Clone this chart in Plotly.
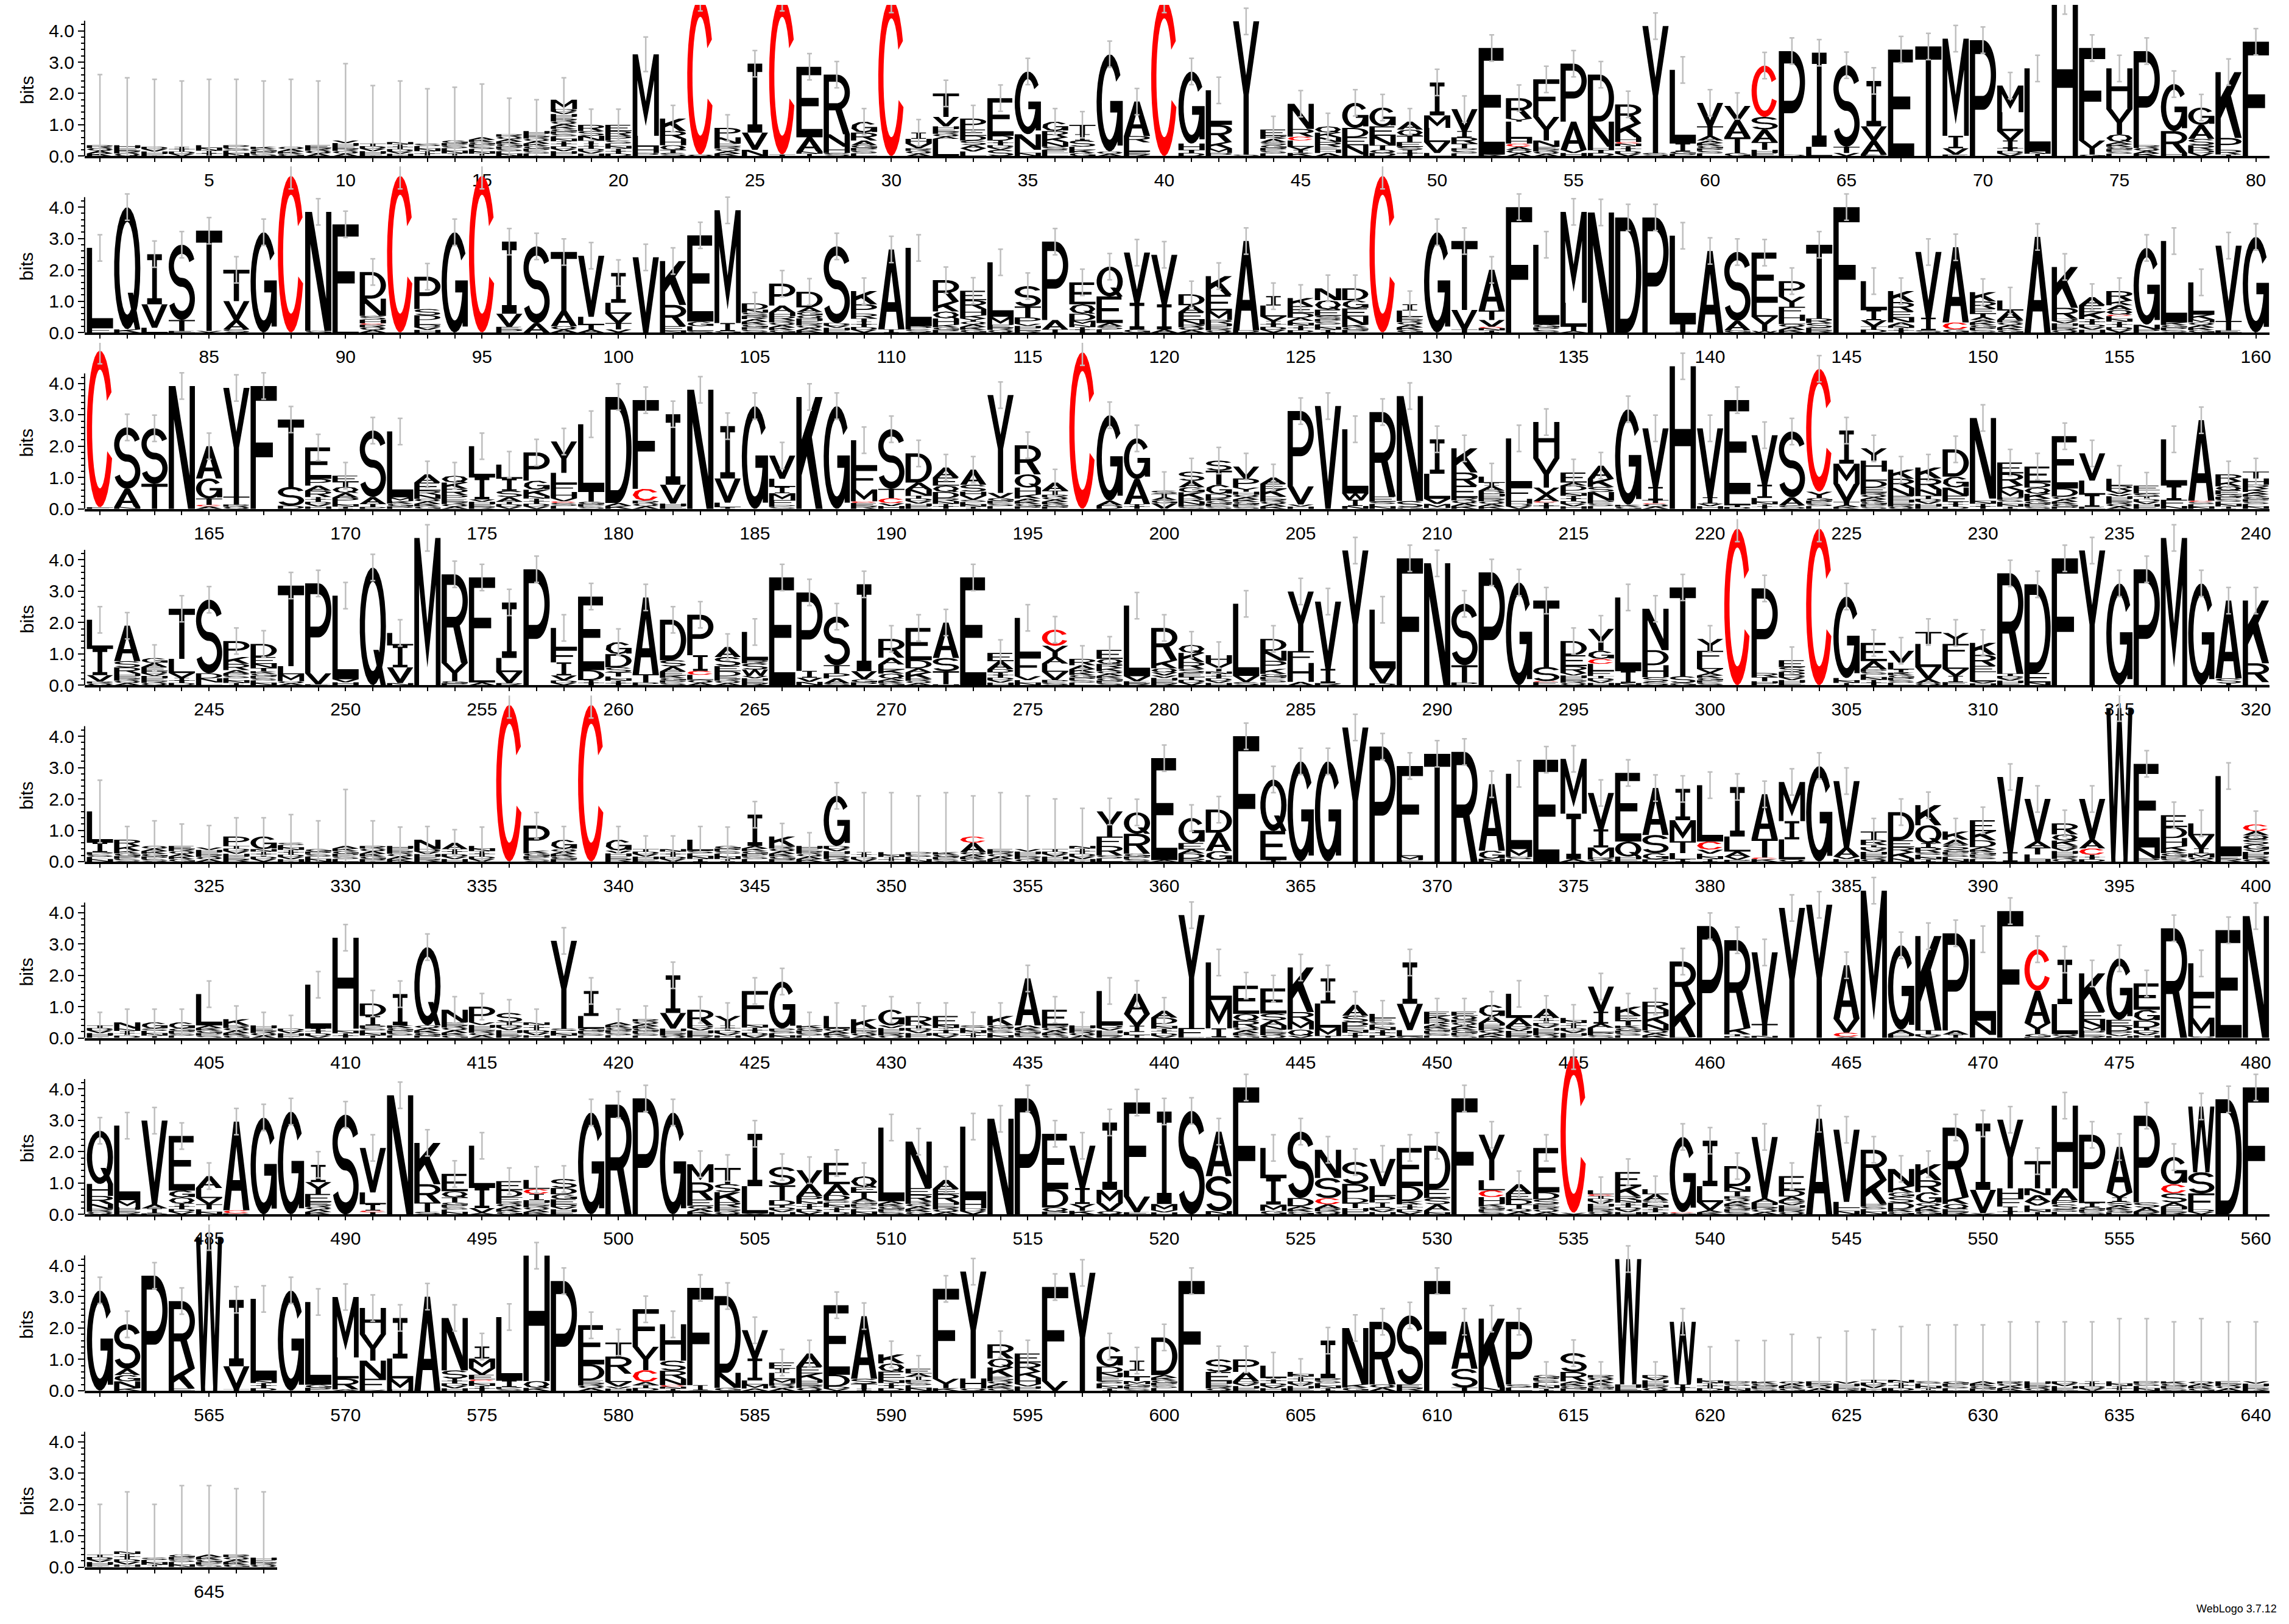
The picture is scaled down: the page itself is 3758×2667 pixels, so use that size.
import re
import numpy as np
import plotly.graph_objects as go

# ---------------- data: one token per position, letters listed top -> bottom ----------------
# token = letter+height(bits) pairs; 'x' = tiny mixed residues; '~e' = error-bar half width
ROW1 = """
x.35~2.25 x.35~2.15 x.3~2.15 x.3~2.1 x.35~2.1 x.35~2.1 x.3~2.1 x.3~2.15 x.35~2.05 x.5~2.45
x.4~1.85 x.45~1.95 x.4~1.75 x.5~1.7 x.6~1.7 x.7~1.15 x.8~1.0 M.3x1.5~.7 R.2S.15N.15T.1x.4~.5 E.2R.15P.15S.1x.4~.5
M2.6L.35H.2x.1~.55 K.4R.25H.2Q.15T.1S.1 C5.0x.05 P.3N.2x.4 I2.2V.55N.2 C5.0x.05 E2.25A.45x.15 R1.9N.4H.2x.1 G.35R.25A.15x.35 C5.0
I.2H.15V.15x.25 T.75V.3x.4L.55 P.35E.2D.15S.15A.1V.1L.15 E1.2D.15x.3S.2 G2.0N.5x.2 G.3R.2K.15N.15S.1E.1L.1 T.3I.2S.2L.1x.2 G3.1x.15 A1.1R.2L.3x.14 C5.0
G2.3H.2x.2 L1.1R.55K.2M.15P.1 Y4.25x.05 E.2R.1A.1S.1x.35 N.8R.25C.12L.2V.1I.1K.1 Q.2K.15N.15R.15E.1H.1A.1 G.8D.3E.25N.3x.05 G.6E.3N.3T.15Q.1x.1 A.25Q.2T.2E.15S.1x.2 I1.05M.4L.45V.35x.1
V.7I.2R.2T.15x.25 E3.4x.05 R.65Y.1L.55H.15C.1A.1x.2 F1.2Y.75N.2x.3 P1.85A.9x.2 D1.5N.8H.1x.2 R.6K.45H.15C.05x.4 Y4.05x.1 L2.35I.25x.15 V.75T.3A.15x.5
V.45A.55T.5G.1 C1.64S.4A.4T.25x.2 P3.3x.05 I3.0L.3 S2.6T.2V.1 I1.45V.45A.45x.05 E3.4 T3.5 M3.1I.4V.2x.05 P3.7
M.85L.6V.3I.25x.25 L2.65x.15 H4.95 F2.95Y.45x.05 H1.3Y.8Q.25x.45 P3.0x.35 G1.5R.7x.1 G.55A.45S.2R.15x.2 K2.1P.38R.15x.05 F3.65
"""
ROW2 = """
L2.55F.15 Q3.9x.1 I1.6V.75L.15 S2.4T.35x.05 T3.2x.05 T1.0V.6A.3S.1 G3.2 C5.0 N3.8x.05 F3.25L.2
D.85N.55S.12H.12C.04x.25 C5.0 P1.03S.2D.15L.15x.25 G3.2 C5.0 I2.3V.42E.08x.1 S2.45A.3 T1.87A.5x.2 V1.95L.25T.15A.1 I.95L.35V.3T.2x.1
V2.4 K1.4R.68E.15x.05 E2.75G.15L.15x.05 M3.6I.25x.05 D.2N.1S.1R.1x.43~.35 P.7A.22H.12R.12x.4 D.5A.15G.1Q.1x.45 S2.45x.3 K.42P.3R.15T.1x.35 A2.55I.1
L2.5x.2 R.68K.32Q.22H.2x.25 E.3R.28H.2K.1Y.1x.35 L1.74M.25x.25 S.65T.35P.2x.28 P2.5A.3x.1 E.7Q.3D.22M.12x.26 Q.95E.85A.1x.2 V1.6I.85x.1 V1.58I.8x.1
D.35A.22E.25N.15x.25 K.6E.5M.3R.12x.28 A2.85x.07 I.3L.35V.15x.36 K.26E.22D.15A.1x.37 N.38Q.3E.2S.1x.43 D.38G.26E.26N.26x.25 C5.0 I.2L.2x.5 G3.2
T2.2V.62x.1 A1.3T.3V.22C.04x.14 F4.0 L2.55x.25 M2.9L.75T.15x.05 N3.83 D3.67 P3.67 L2.8T.25x.04 A2.6
S2.2A.3G.07 E1.6L.45Y.45W.05 P.5Y.32F.25H.2L.1x.27 T2.35R.15S.15x.15 F4.0 L.93I.32V.2x.19 K.35R.3E.2N.15A.1x.22 V2.1I.4x.07 A2.4C.22x.1 K.3R.23E.16T.1A.1x.4
L.32A.3x.4 A3.05 K1.3R.35x.44 A.26E.22K.22x.43 R.3K.15A.15Q.15C.05x.52 G2.45N.15x.1 L2.6x.32 L1.03K.15M.1x.32 V2.4T.3x.07 G3.05
"""
ROW3 = """
C5.0F.05 S1.96A.58x.06 S1.77T.8 N3.92 A1.03G.64T.2C.05x.08 Y3.47T.25x.14 F3.92 T2.15S.6x.1 E1.0P.22A.16R.2x.38 E.2T.15Q.2A.15P.15x.21
S2.12A.22T.1x.06 L2.1M.12x.25 A.26E.26R.13N.13x.32 Q.22K.2R.2P.13x.31 L1.0I.7x.3 L.45I.38S.2A.15x.23 P.9G.29K.2x.41 Y1.0L.35F.26H.2V.1C.05x.19 L2.12T.35x.23 D3.38x.19
F2.83C.38x.26 I2.25V.6x.17 N3.8 I1.67V.77L.15x.05 G3.28 V.74L.26I.2M.22F.16x.12 K3.57 G3.28 L.9F.67M.38C.05x.19 S1.9T.3C.16x.18
D.93A.22N.2x.42 A.32E.26Q.2D.2R.1x.24 A.48S.22H.13V.13x.29 Y3.12V.16x.35 R.93Q.42H.22K.13x.33 A.26T.13x.45 C5.0 G2.73A.15x.11 G1.3A.8x.15 S.1T.1A.1G.1V.18~.6
S.3A.2G.16K.2R.1N.1x.13 S.32T.45G.3D.13x.34 V.38P.29Y.13H.1x.45 A.2E.16K.25x.39 P2.4V.58x.14 V3.28 L2.05W.2I.2x.09 R2.7E.16x.23 N3.35S.2x.05 I1.1L.8V.16M.13x.03
K.77R.42E.38x.36 L.2I.1A.15D.1x.48 L1.55F.38H.16x.16 H1.16Y.93V.22A.22C.04x.2 E.32A.1D.16x.58 A.42K.26S.16N.28x.26 G3.05x.13 V1.87I.42T.1C.03x.15 H4.55 V2.2I.2x.17
E3.0L.35x.12 V1.58I.42L.13x.22 S2.1A.26x.11 C3.92Y.2x.35 I1.06M.64V.58T.1x.12 Y.39H.35L.29D.22E.15x.53 K.29R.29N.26E.13x.28 K.35R.35N.2T.1x.32 D.87G.35N.26E.2x.22 N2.57x.33
E.35R.38K.16M.22x.37 E.51D.16Q.2K.15x.33 E1.67D.26x.39 V.87L.45I.38x.07 L.22R.16V.1x.48 E.15L.1S.1x.39 L1.48I.45F.2x.09 A2.57C.04x.22 R.22K.16Q.13E.13x.46 T.22H.2R.13K.1x.54
"""
ROW4 = """
L.93I.84V.2x.12 A1.13S.2R.2x.37 G.16A.13E.13x.45 T1.6L.45V.16x.23 S2.35D.16N.13x.09 P.51K.22R.2A.1x.38 D.42E.22N.13T.1x.45 T2.57L.26M.22x.13 P2.87V.35x.03 L2.67x.19
Q3.76 L.4I.7V.5x.07 M4.7 R2.83Y.58x.13 F2.8L.55x.09 I1.77L.45V.35x.07 P3.7 L.68F.42I.42V.16x.15 E2.35D.32x.16 G.39D.42S.16T.13x.28
A2.45T.26x.09 D1.29S.2A.16E.13x.31 P1.29I.5C.13L.16x.17 A.32S.29E.16D.16x.29 L.9R.1S.2W.2x.3 E3.44 P2.5I.22V.13x.11 S1.55T.26P.16A.16x.06 I2.77V.26x.19 R.6A.22L.16K.13Q.16x.21
E1.03D.26A.13K.2x.21 A1.13S.42T.42x.03 E3.44 E.26A.26D.1x.41 L1.22F.64V.13x.16 C.51Y.35A.22L.26V.26x.17 R.2A.13K.1x.41 E.29Q.16R.13K.1x.45 L2.25V.16x.13 R1.03K.26Q.13V.1x.31
Q.26K.29R.22S.13E.13x.26 H.26Y.26x.44 L2.3V.2x.1 D.38N.32P.26K.16x.36 Y1.9F.38H.6x.11 V2.15I.45x.07 Y4.3 L1.87V.48x.06 F4.05 N3.89
S1.96T.55x.09 P3.6 G3.28 T2.12S.45C.03x.1 D.45E.35R.22x.39 Y.7G.26C.16L.22F.16x.3 L2.35I.38x.07 N1.32D.48H.38S.15x.11 T2.83S.22x.07 Y.38F.32L.26V.13x.39
C5.0 P2.7R.13T.13x.13 E.22S.15D.1x.33 C5.0 G2.6x.23 E.58A.26x.51 V.38L.22I.1x.4 T.38L.74V.38A.13x.07 Y.35F.42L.38V.22I.2x.1 K.38R.35E.2L.3x.12
R3.2x.37 D2.83E.3x.09 F4.05 Y4.3 G3.25 P3.7 M4.7 G3.25 A2.48S.16x.06 K2.0R.6x.1
"""
ROW5 = """
L1.0I.3x.3~1.0 R.2K.15x.35 x.5~.8 x.5~.7 x.45~.7 P.3x.5~.6 G.4x.4~.6 x.6~.9 x.4~.9 x.5~1.8
x.5~.8 x.5~.6 N.3x.4 A.2x.4 x.5~.6 C5.0 P.8x.35 G.3x.4 C5.0 G.35x.35
x.4 x.4 L.35x.35 x.5~.6 I1.0x.5 K.3x.5 x.5 G1.6x.5 x.3~1.9 x.3~1.9
x.3~1.8 x.3~1.9 C.2A.3x.3~1.3 x.4~1.8 x.4~1.7 x.4~1.6 x.5~1.2 Y.8F.3R.3x.2 Q.68R.64x.25 E3.25x.05
G.8E.2A.13D.16x.1 D.74A.58G.29x.05 F4.0 Q1.64E.93x.05 G3.2 G3.2 Y4.28 P3.67 F2.67L.2M.13x.05 T3.44
R3.5 A2.12G.26x.09 L2.4M.25x.15 E3.25 M1.75I1.45x.08 V1.16I.58M.32x.13 E2.19Q.48x.16 A1.5S.58G.2x.07 I1.0M.67T.38L.2x.07 L1.8C.26V.13x.25
I1.58L.48A.16V.1x.06 A1.42T.6C.05x.08 M1.25I.58L.64x.07 G3.05 V2.12A.29x.16 T.26R.16x.54 D.9E.22R.16K.2x.1 K.64Q.58I.13R.16x.29 K.26A.16S.16x.38 E.35K.29D.22x.46
V2.4I.3 V1.35A.2T.22L.16x.07 R.35Q.2K.16x.51 V1.29A.29C.2x.22 W4.9 E2.67N.35x.1 E.38D.35H.26K.13x.36 L.38V.42I.16M.13x.13 L2.55x.18 C.22A.13Q.13S.16G.16x.39
"""
ROW6 = """
x.4 N.2x.3 G.2x.3 G.2x.3 L1.0x.4 K.2x.4 x.4 x.3 L1.4x.3 H2.9x.3
D.4I.3x.4 I1.0x.4 Q2.5x.4 N.4x.5 P.5x.5 S.3x.5 x.5 Y2.8x.3 I.8L.4x.3 x.5
x.6 I1.2V.5x.3 R.5x.4 Y.3x.4 F1.0x.5 G1.5x.3 x.4 L.4x.3 K.3x.3 G.5x.4
R.3x.4 E.3x.4 x.4 K.3x.4 A1.5x.4 E.5x.4 x.4 L1.1x.4 A.64V.38I.2L.1x.09 A.22D.2x.45
Y3.6F.29x.03 L1.2M.9I.29x.02 E.9Q.22R.22x.33 E.8S.22A.16N.13x.27 K1.42R.3M.26Q.2x.07 I.8L.77M.26x.07 A.35S.2D.13E.13x.25 L.13F.13x.51 I1.32V.84L.2x.05 E.13K.13R.13x.45
E.13Q.13x.58 G.38A.2x.48 L.77A.26x.38 A.29x.64 x.64 V.8I.38A.13L.15x.18 K.29E.16T.16x.39 R.26H.2K.26N.2x.24 R1.35K1.06x.03 P3.57
R2.8K.2x.12 V2.28T.38x.07 Y4.15 Y4.25 A1.7V.45C.13x.04 M4.7 G2.7A.13x.13 K3.0T.13x.12 P3.1A.13x.11 L2.6N.45x.1
F4.05 C1.32A1.03Y.35G.1x.03 I1.42L.95x.13 K1.22E.26N.22M.13P.1x.13 G1.96E.2D.16P.1x.12 E.84G.35D.22x.33 R3.5 L1.03F.7M.6x.05 E3.44 N3.89
"""
ROW7 = """
Q1.7H.38R.26N.16x.17 L2.38M.22x.23 V2.67A.13I.16x.03 E1.74G.22Q.2x.34 A.38L.32V.2T.16x.16 A2.83C.1x.03 G3.09 G3.28 I.55Y.38E.26x.39 S3.18
V1.42L.38I.2C.05x.07 N3.8 K1.32R.58T.3x.08 E.55Q.2T.16x.38 L1.35I.64V.15x.05 E.29D.22F.13x.42 L.29C.16I.2x.45 S.29D.2G.16E.16x.32 G3.25 R3.5
P3.7 G3.25 M.58R.55E.2x.27 T.51S.26K.32R.16x.23 I1.67L.87x.03 S.58T.48D.16x.29 V.45A.38P.16x.42 E.68A.35D.16x.45 Q.35E.16T.2A.1x.41 L2.35x.42
N1.48E.22R.2x.42 A.29E.16R.26x.39 L2.35H.26x.19 N3.05 P3.7 E1.77D.58Q.13x.09 V1.35I.51Y.22x.11 I2.15M.42V.26x.1 F3.0V.5x.07 I2.95M.2x.13
S3.3 A1.42S1.12x.1 F4.05 L.97I.84M.2x.11 S2.12D.26x.26 N.9S.64C.2A.13x.19 S.7P.45D.16T.16x.2 V.87L.32P.2I.16x.22 E1.22D.48K.1x.32 D1.38E.29S.2A.2x.12
F3.7 Y1.45L.32C.22H.22x.33 A.29E.2D.16T.13x.18 E1.42D.22S.16x.32 C5.0x.05 L.13C.05x.59 E.45K.32R.13x.45 L.16A.2x.44 G2.4C.03x.04 I1.45L.51V.26x.13
D.64N.16T.16x.58 V1.96A.13x.38 E.45D.2A.13x.44 A3.05 V2.3L.2x.2 R.96K.77x.33 N.55K.2G.13S.2D.2x.17 K.51R.38G.35x.36 R2.22K.22Q.16x.17 I2.12V.74x.04
Y2.19H.32F.26I.16x.09 T.87N.22A.2V.13L.13x.15 H2.64A.38P.13S.16x.16 P1.83L.35I.13x.23 A1.45V.16I.13S.13x.28 P2.77S.16A.13x.09 G.87C.29S.29A.13x.25 W2.1S.67F.51x.16 D3.67 F4.05
"""
ROW8 = """
G3.2 S1.42A.2G.2N.22x.08 P3.67 R2.15K.64x.07 W4.9 I2.12V.74x.04 L2.6x.33 G3.2 L2.64x.19 M1.93L.67R.35x.04
H.84Y.84N.58F.35x.03 I1.29L.64M.35x.04 A3.0 N1.67S.26x.39 I.38M.32V.2E.15C.05x.31 L2.03I.2x.12 H4.0Q.22x.09 P3.5 E1.25D.51x.33 T.45R.55L.26V.15x.13
F1.2Y.74C.38A.1x.18 H1.16S.32R.26N.2C.05x.13 F3.1I.16x.02 D2.45N.48x.09 V.9I.7L.13M.13x.07 E.2I.13L.2M.13x.24 A.42E.22K.2x.35 E2.22D.38x.13 A2.0S.16T.16x.06 K.29Q.26E.2x.41
E.15A.1T.1x.35 F2.87Y.3x.08 Y3.41H.32x.07 R.45Q.29K.29x.45 E.29R.29K.2H.2x.21 F3.0V.3x.01 Y3.76 G.64D.2N.13E.13x.31 I.32L.2T.13M.1x.21 D1.2x.5
F3.5 S.4E.3x.3 P.4A.3x.3 L.4x.4 x.6 I1.2x.4 N1.8x.2 R2.0x.2 S2.2x.2 F3.5
A1.5S.6x.1 K2.2x.1 P2.0x.2 x.5 S.6R.3x.3 x.5 W4.0x.2 x.5 W2.0x.2 x.4~1.0
x.3~1.3 x.3~1.3 x.3~1.5 x.3~1.4 x.3~1.6 x.35~1.6 x.35~1.7 x.3~1.8 x.3~1.8 x.3~1.8
x.3~1.9 x.3~1.9 x.3~1.9 x.3~1.9 x.3~2.0 x.3~2.0 x.3~1.9 x.3~2.0 x.3~1.9 x.3~1.9
"""
ROW9 = """
x.4~1.6 x.5~1.9 x.3~1.7 x.4~2.2 x.4~2.2 x.4~2.1 x.3~2.1
"""
ROWS = [ROW1, ROW2, ROW3, ROW4, ROW5, ROW6, ROW7, ROW8, ROW9]
ROW_START = [1, 81, 161, 241, 321, 401, 481, 561, 641]
Y_TICKS = [0, 1, 2, 3, 4]
Y_TICKTEXT = ["0.0", "1.0", "2.0", "3.0", "4.0"]
DEFAULT_ERR = 0.42
FOOTER = "WebLogo 3.7.12"

# ---------------- geometry / style ----------------
W, H = 3758, 2667
PX_POS = 44.84
PX_BIT = 51.8
X_LEFT = 131.0
FIRST_CENTER = 156.2
BASELINES = [250 + 291.5 * i for i in range(9)]
YMAX = 5.3
FONT = "Liberation Sans, Arial, Helvetica, sans-serif"
BLACK, RED, GRAY = "#000000", "#ff0000", "rgb(190,190,190)"
CLUTTER = "ASTEKLDRGNVQPIH"

HB = 0.12   # horizontal bar thickness (fraction of letter height)
VS = 0.2    # vertical stem thickness (fraction of letter width)


def rect(x0, y0, x1, y1):
    return [(x0, y0), (x1, y0), (x1, y1), (x0, y1)]


def band(cx, cy, rx, ry, a0, a1, n, tx=VS, ty=HB):
    t = np.radians(np.linspace(a0, a1, n))
    out = [(cx + rx * np.cos(a), cy + ry * np.sin(a)) for a in t]
    inn = [(cx + (rx - tx) * np.cos(a), cy + (ry - ty) * np.sin(a)) for a in t[::-1]]
    return out + inn


def stroke(xa, ya, xb, yb, w):
    return [(xa - w, ya), (xa + w, ya), (xb + w, yb), (xb - w, yb)]


def orient(poly):
    a = 0.0
    for i in range(len(poly)):
        x1, y1 = poly[i]
        x2, y2 = poly[(i + 1) % len(poly)]
        a += x1 * y2 - x2 * y1
    return poly if a > 0 else poly[::-1]


def make_glyphs(n):
    h, s = HB, VS
    pb = [rect(0, 0, s, 1), rect(0, 1 - h, .5, 1), rect(0, .4, .5, .4 + h), band(.5, .7, .5, .3, -90, 90, n)]
    su_cy = (1 + .5 - h / 2) / 2
    su_ry = (1 - (.5 - h / 2)) / 2
    sl_cy = (.5 + h / 2) / 2
    g = {
        'A': [[(0, 0), (.24, 0), (.6, 1), (.4, 1)], [(.76, 0), (1, 0), (.6, 1), (.4, 1)], rect(.18, .22, .82, .22 + h)],
        'C': [band(.5, .5, .5, .5, 28, 338, n)],
        'D': [rect(0, 0, s, 1), rect(0, 0, .45, h), rect(0, 1 - h, .45, 1), band(.45, .5, .55, .5, -90, 90, n)],
        'E': [rect(0, 0, s, 1), rect(0, 1 - h, .95, 1), rect(0, .5 - h / 2, .85, .5 + h / 2), rect(0, 0, 1, h)],
        'F': [rect(0, 0, s, 1), rect(0, 1 - h, 1, 1), rect(0, .42, .85, .42 + h)],
        'G': [band(.5, .5, .5, .5, 35, 355, n), rect(.52, .4, 1, .4 + h), rect(1 - s, .06, 1, .4 + h)],
        'H': [rect(0, 0, s, 1), rect(1 - s, 0, 1, 1), rect(0, .44, 1, .44 + h)],
        'I': [rect(.41, 0, .59, 1), rect(.22, 1 - h, .78, 1), rect(.22, 0, .78, h)],
        'K': [rect(0, 0, s, 1), [(s, .3), (1, 1), (.72, 1), (s, .62)], [(.36, .52), (.58, .66), (1, 0), (.74, 0)]],
        'L': [rect(0, 0, s, 1), rect(0, 0, 1, h)],
        'M': [rect(0, 0, .18, 1), rect(.82, 0, 1, 1), [(0, 1), (.5, .12), (.5, .42), (.2, 1)],
              [(1, 1), (.8, 1), (.5, .42), (.5, .12)]],
        'N': [rect(0, 0, s, 1), rect(1 - s, 0, 1, 1), [(0, 1), (.26, 1), (1, 0), (.74, 0)]],
        'P': pb,
        'Q': [band(.5, .5, .5, .5, 0, 360, n), [(.52, .3), (.72, .3), (1, 0), (.8, 0)]],
        'R': pb + [[(.42, .44), (.68, .44), (1, 0), (.74, 0)]],
        'S': [band(.5, su_cy, .5, su_ry, 18, 270, n), band(.5, sl_cy, .5, sl_cy, -162, 90, n)],
        'T': [rect(0, 1 - h, 1, 1), rect(.4, 0, .6, 1)],
        'V': [[(0, 1), (.22, 1), (.6, 0), (.4, 0)], [(.78, 1), (1, 1), (.6, 0), (.4, 0)]],
        'W': [stroke(.08, 1, .27, 0, .08), stroke(.27, 0, .5, 1, .07), stroke(.5, 1, .73, 0, .07),
              stroke(.73, 0, .92, 1, .08)],
        'Y': [[(0, 1), (.22, 1), (.6, .45), (.4, .45)], [(.78, 1), (1, 1), (.6, .45), (.4, .45)], rect(.4, 0, .6, .47)],
    }
    return {k: [orient(p) for p in v] for k, v in g.items()}


GLY_HI = make_glyphs(30)
GLY_LO = make_glyphs(9)


def parse(tok):
    err = None
    if '~' in tok:
        tok, e = tok.split('~')
        err = float(e)
    items = [(l, float(v)) for l, v in re.findall(r'([A-Za-z])(\d*\.?\d+)', tok)]
    return items, err


def expand(items, pos):
    out = []
    for l, hgt in items:
        if l == 'x':
            n = max(1, int(round(hgt / 0.08)))
            for i in range(n):
                out.append((CLUTTER[(pos * 7 + i * 4) % len(CLUTTER)], hgt / n))
        else:
            out.append((l, hgt))
    return out


fig = go.Figure()
layout = dict(width=W, height=H, margin=dict(l=0, r=0, t=0, b=0), paper_bgcolor="white",
              plot_bgcolor="rgba(0,0,0,0)", showlegend=False)
shapes, annotations = [], []

for r, txt in enumerate(ROWS):
    k = r + 1
    xa = 'x' if k == 1 else f'x{k}'
    ya = 'y' if k == 1 else f'y{k}'
    toks = txt.split()
    start = ROW_START[r]
    n = len(toks)
    bufs = {BLACK: ([], []), RED: ([], [])}
    ex, ey, eu, ed = [], [], [], []
    for i, tok in enumerate(toks):
        p = start + i
        items, err = parse(tok)
        stack = expand(items, p)
        y = 0.0
        for ch, hgt in reversed(stack):
            col = RED if ch == 'C' else BLACK
            gl = (GLY_HI if hgt >= 0.4 else GLY_LO).get(ch, GLY_LO['I'])
            xs, ys = bufs[col]
            for poly in gl:
                for (u, v) in poly:
                    xs.append(p - 0.48 + 0.96 * u)
                    ys.append(y + hgt * v)
                xs.append(None)
                ys.append(None)
            y += hgt
        e = DEFAULT_ERR if err is None else err
        ex.append(p)
        ey.append(y)
        eu.append(e)
        ed.append(min(e, y))
    for col, (xs, ys) in bufs.items():
        if xs:
            fig.add_trace(go.Scatter(x=xs, y=ys, mode='lines', fill='toself', fillcolor=col,
                                     line=dict(width=0, color=col, simplify=False), hoverinfo='skip',
                                     xaxis=xa, yaxis=ya))
    fig.add_trace(go.Scatter(x=ex, y=ey, mode='markers', marker=dict(size=1, color='rgba(0,0,0,0)'),
                             error_y=dict(type='data', symmetric=False, array=eu, arrayminus=ed,
                                          color=GRAY, thickness=2.5, width=4),
                             hoverinfo='skip', xaxis=xa, yaxis=ya))

    lo = start - (FIRST_CENTER - X_LEFT) / PX_POS
    hi = start + n - 0.5
    x1px = X_LEFT + (hi - lo) * PX_POS
    b = BASELINES[r]
    ymax = min(YMAX, b / PX_BIT)
    pos_list = list(range(start, start + n))
    layout['xaxis' if k == 1 else f'xaxis{k}'] = dict(
        domain=[X_LEFT / W, x1px / W], range=[lo, hi], anchor=ya,
        tickmode='array', tickvals=pos_list, ticktext=[str(q) if q % 5 == 0 else '' for q in pos_list],
        ticks='outside', ticklen=6, tickwidth=2, tickcolor='black',
        showline=True, linewidth=4, linecolor='black', showgrid=False, zeroline=False,
        tickfont=dict(family=FONT, size=30, color='black'), ticklabelstandoff=4, fixedrange=True)
    layout['yaxis' if k == 1 else f'yaxis{k}'] = dict(
        domain=[1 - b / H, 1 - (b - ymax * PX_BIT) / H], range=[0, ymax], anchor=xa,
        tickmode='array', tickvals=Y_TICKS, ticktext=Y_TICKTEXT,
        ticks='outside', ticklen=10, tickwidth=2, tickcolor='black',
        minor=dict(tickmode='array', tickvals=[round(0.2 * j, 1) for j in range(22) if j % 5],
                   ticks='outside', ticklen=5, tickwidth=2, tickcolor='black'),
        showline=False, showgrid=False, zeroline=False,
        tickfont=dict(family=FONT, size=30, color='black'), fixedrange=True)
    shapes.append(dict(type='line', xref=f'{xa} domain', yref=ya, x0=0, x1=0, y0=0, y1=4.32,
                       line=dict(color='black', width=2)))
    annotations.append(dict(text='bits', xref='paper', yref=ya, x=36 / W, y=2.12, textangle=-90,
                            showarrow=False, xanchor='center', yanchor='middle',
                            font=dict(family=FONT, size=30, color='black')))

annotations.append(dict(text=FOOTER, xref='paper', yref='paper', x=3735 / W, y=1 - 2651 / H,
                        xanchor='right', yanchor='middle', showarrow=False,
                        font=dict(family=FONT, size=18, color='black')))
layout['shapes'] = shapes
layout['annotations'] = annotations
fig.update_layout(**layout)
fig.write_html("out.html")
